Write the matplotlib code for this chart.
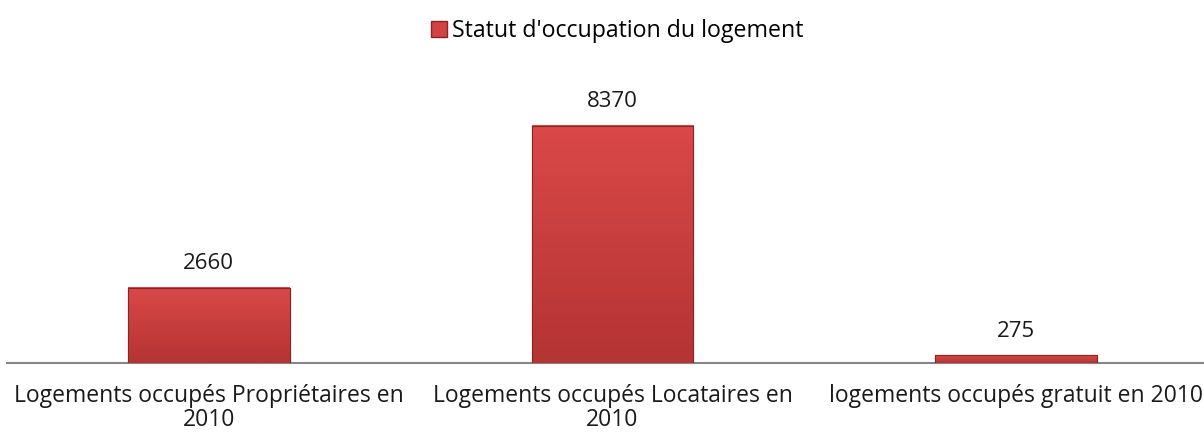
import numpy as np
import matplotlib.pyplot as plt
from matplotlib.patches import Patch
from matplotlib.colors import LinearSegmentedColormap

categories = ["Logements occupés Propriétaires en\n2010",
              "Logements occupés Locataires en\n2010",
              "logements occupés gratuit en 2010"]
values = [2660, 8370, 275]
series_name = "Statut d'occupation du logement"

plt.rcParams['font.family'] = ['Open Sans', 'DejaVu Sans']

W, H = 1204, 442
fig = plt.figure(figsize=(W / 100, H / 100), dpi=100)
# axis wider than the figure, the right end is cut like in the original
ax = fig.add_axes([7 / W, 79 / H, 1211 / W, 255 / H])

x = np.arange(len(values))
bars = ax.bar(x, values, width=0.4, color='#D34343', edgecolor='#8E2323', linewidth=0.8, zorder=3)

# a bit of shading on each bar (light top, darker bottom)
cm = LinearSegmentedColormap.from_list('r', ['#B53434', '#DA4848'])
for b in bars:
    bx, bw, bh = b.get_x(), b.get_width(), b.get_height()
    grad = np.linspace(0, 1, 50).reshape(-1, 1)
    ax.imshow(grad, extent=[bx, bx + bw, 0, bh], aspect='auto', origin='lower',
              cmap=cm, zorder=3.5, clip_path=b)
    ax.bar(bx + bw / 2, bh, width=bw, fill=False, edgecolor='#8E2323', linewidth=0.8, zorder=4)

for xi, v in zip(x, values):
    ax.text(xi, v + 480, str(v), ha='center', va='bottom', fontsize=16, color='#1a1a1a')

ax.set_xlim(-0.5, 2.5)
ax.set_ylim(0, 9000)
ax.set_xticks(x)
ax.set_xticklabels(categories, fontsize=16.5, color='#1a1a1a', linespacing=1.0)
ax.tick_params(axis='x', length=0, pad=15)
ax.set_yticks([])
for s in ['top', 'right', 'left']:
    ax.spines[s].set_visible(False)
ax.spines['bottom'].set_color('#868686')
ax.spines['bottom'].set_linewidth(1.5)

fig.legend(handles=[Patch(facecolor='#D34343', edgecolor='#8E2323', label=series_name)],
           loc='center', bbox_to_anchor=(617 / W, 1 - 31 / H), frameon=False, fontsize=16.7,
           handlelength=0.7, handleheight=0.7, handletextpad=0.2)

fig.savefig('out.png', dpi=100)
